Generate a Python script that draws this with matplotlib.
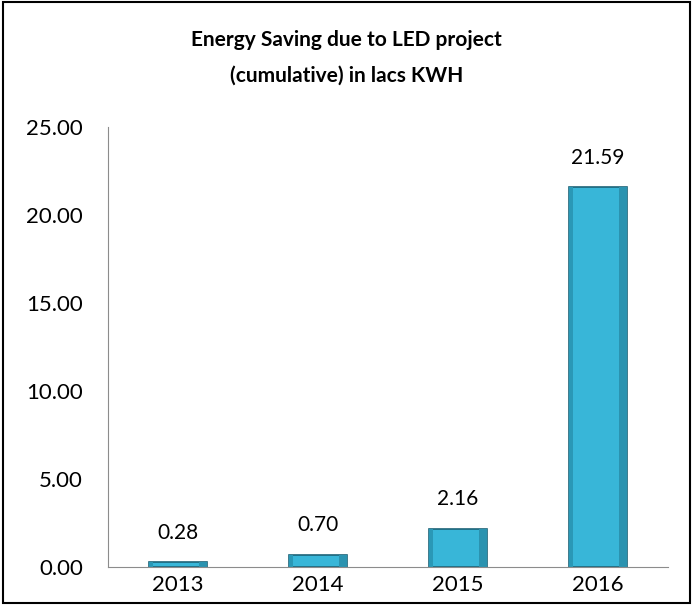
import matplotlib.pyplot as plt
from matplotlib.patches import Rectangle

years = ['2013', '2014', '2015', '2016']
saving = [0.28, 0.70, 2.16, 21.59]
yticks = [0, 5, 10, 15, 20, 25]

plt.rcParams['font.family'] = ['Lato', 'DejaVu Sans']

fig = plt.figure(figsize=(6.93, 6.05), dpi=100)
ax = fig.add_axes([0.156, 0.063, 0.808, 0.727])

x = range(len(years))
bars = ax.bar(x, saving, width=0.42, color='#38b6d8', edgecolor='#1d6478', linewidth=1.2)
# darker sides to fake the bevel look
for b in bars:
    bx, by, bw, bh = b.get_x(), b.get_y(), b.get_width(), b.get_height()
    ax.add_patch(Rectangle((bx + bw * 0.86, by), bw * 0.14, bh, color='#2b93b0', lw=0, zorder=2.5))
    ax.add_patch(Rectangle((bx, by), bw * 0.08, bh, color='#2a98b6', lw=0, zorder=2.5))

for i, v in enumerate(saving):
    ax.annotate('%.2f' % v, (i, v), xytext=(0, 14), textcoords='offset points',
                ha='center', va='bottom', fontsize=15)

ax.set_xlim(-0.5, 3.5)
ax.set_ylim(0, 25)
ax.set_yticks(yticks)
ax.set_yticklabels(['%.2f' % t for t in yticks], fontsize=16)
ax.set_xticks(list(x))
ax.set_xticklabels(years, fontsize=16)
ax.tick_params(axis='y', length=0, pad=18)
ax.tick_params(axis='x', length=0, pad=6)
for s in ['top', 'right']:
    ax.spines[s].set_visible(False)
for s in ['left', 'bottom']:
    ax.spines[s].set_color('#8c8c8c')

fig.text(0.5, 0.934, 'Energy Saving due to LED project',
         ha='center', va='center', fontsize=15, fontweight='bold')
fig.text(0.5, 0.875, '(cumulative) in lacs KWH',
         ha='center', va='center', fontsize=15, fontweight='bold')

fig.patches.append(Rectangle((0.004, 0.004), 0.992, 0.992, transform=fig.transFigure,
                             fill=False, edgecolor='black', linewidth=1.5))

plt.savefig('out.png', dpi=100)
plt.close()
